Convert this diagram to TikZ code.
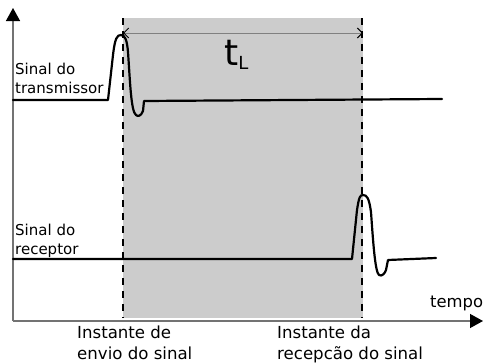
\documentclass[tikz,border=0pt]{standalone}
\usepackage{fontspec}
\setmainfont{DejaVu Sans}
\usetikzlibrary{arrows.meta}
\begin{document}
\begin{tikzpicture}[x=1pt,y=-1pt,
  axis/.style={draw=black!55,line width=1.4pt,-{Triangle[length=13pt,width=14pt,color=black]}},
  signal/.style={draw=black,line width=2.2pt,line join=round,line cap=round},
  marker/.style={draw=black,line width=1.3pt,dash pattern=on 7pt off 6pt},
  span/.style={draw=black!50,line width=1pt,{Straight Barb[length=5pt,width=10pt,color=black]}-{Straight Barb[length=5pt,width=10pt,color=black]}},
  lbl/.style={inner sep=0pt,align=left,anchor=north west,font=\fontsize{15}{19}\selectfont},
  blbl/.style={inner sep=0pt,align=left,anchor=north west,font=\fontsize{16.6}{21}\selectfont}]
\useasboundingbox (0,0) rectangle (483,364);
% shaded interval
\fill[black!20] (123,18) rectangle (363,318);
% axes
\coordinate (O) at (13,321);
\coordinate (ytip) at (13,8);
\coordinate (xtip) at (483,321);
\draw[axis] (O) -- (ytip);
\draw[axis] (O) -- (xtip);
% dashed instants
\coordinate (s1) at (123,18);
\coordinate (s2) at (123,318);
\coordinate (r1) at (362,18);
\coordinate (r2) at (362,318);
\draw[marker] (s1) -- (s2);
\draw[marker] (r1) -- (r2);
% t_L span
\coordinate (ta) at (123,33);
\coordinate (tb) at (363,33);
\draw[span] (ta) -- (tb);
\node[inner sep=0pt,anchor=base west] (tl) at (224,65)
  {{\fontsize{36}{36}\selectfont t}{\fontsize{18}{18}\selectfont\raisebox{-5pt}{L}}};
% transmitter signal
\draw[signal] (13,100) -- (108,100) -- (113,55)
  .. controls (115,38) and (117,35) .. (121,35)
  .. controls (125,35) and (127,40) .. (128,52)
  .. controls (130,80) and (131,112) .. (136,115)
  .. controls (138,117) and (141,116) .. (143,111)
  -- (144,101) -- (442,99);
% receiver signal
\draw[signal] (13,259) -- (352,259) -- (357,210)
  .. controls (359,197) and (360,195) .. (363,195)
  .. controls (367,195) and (369,198) .. (371,212)
  .. controls (373,240) and (375,272) .. (379,275)
  .. controls (382,277) and (385,273) .. (386,270)
  -- (388,260) -- (436,258);
% labels
\node[lbl] (tx) at (15,63) {Sinal do\\transmissor};
\node[lbl] (rx) at (15,224) {Sinal do\\receptor};
\node[inner sep=0pt,anchor=base west,font=\fontsize{16.4}{19}\selectfont] (tempo) at (430,307) {tempo};
\node[blbl] (env) at (77,326) {Instante de\\envio do sinal};
\node[blbl] (rec) at (277,326) {Instante da\\recepcão do sinal};
\end{tikzpicture}
\end{document}
